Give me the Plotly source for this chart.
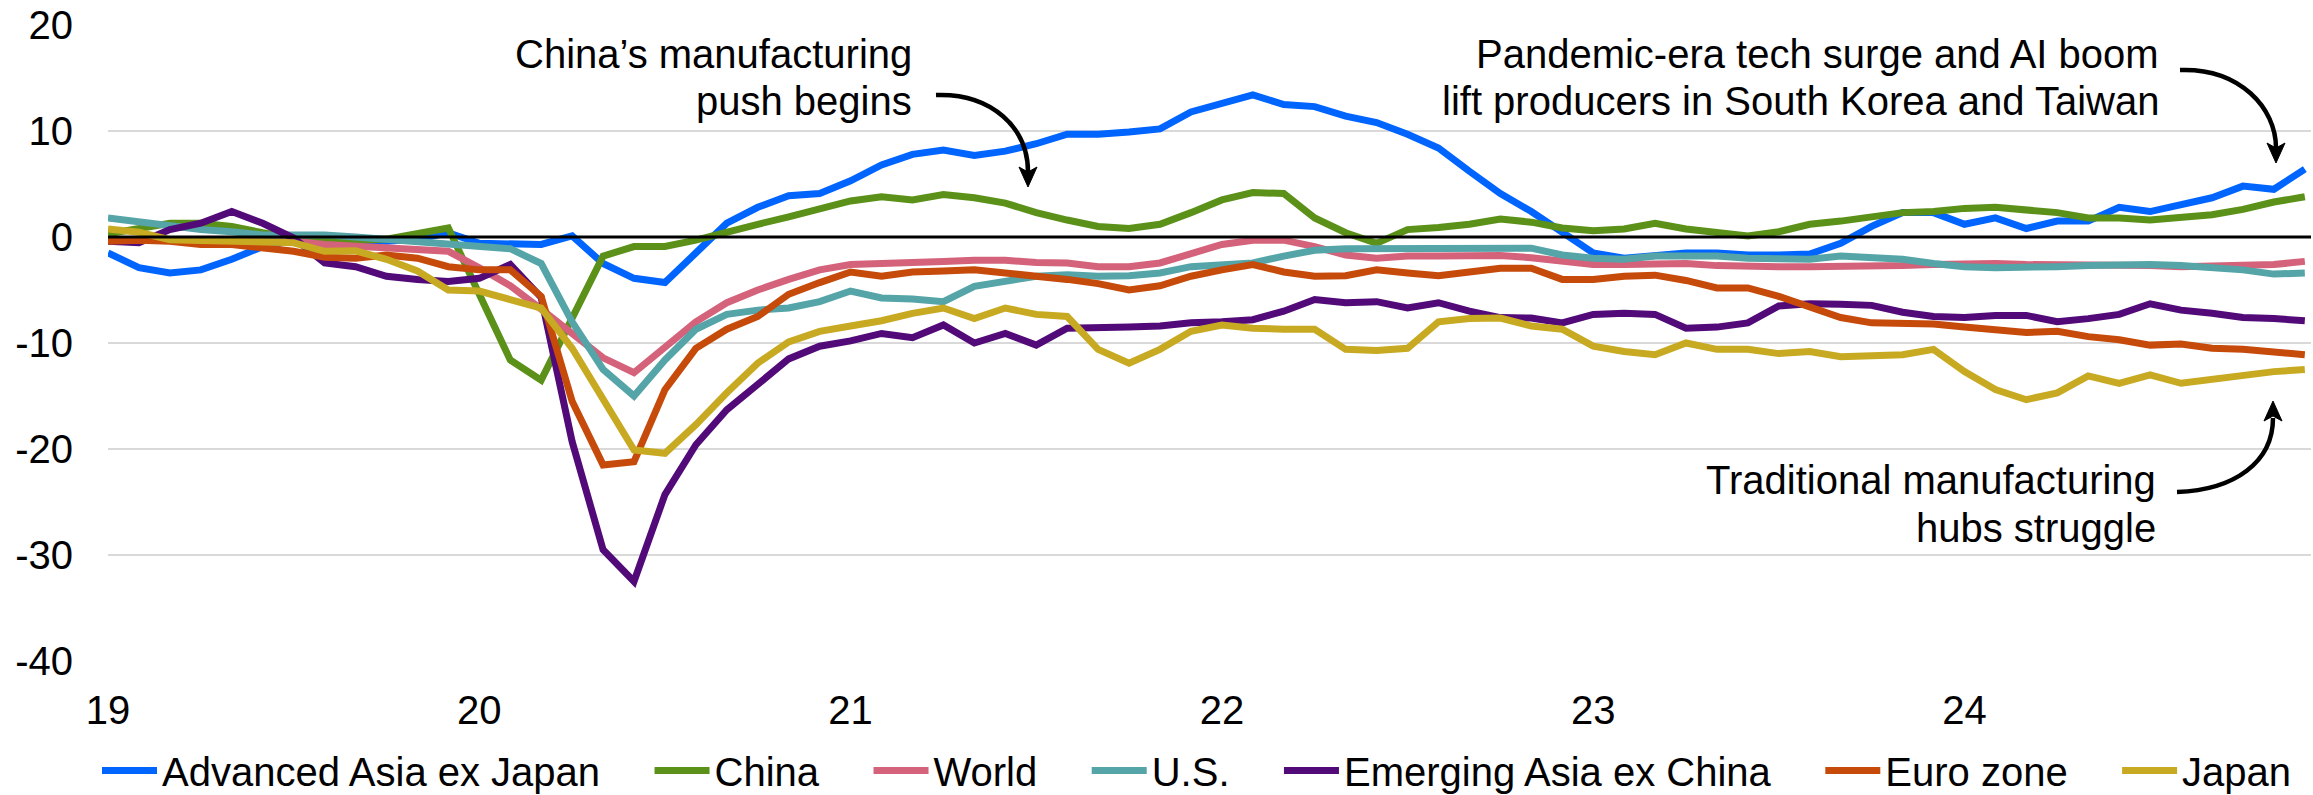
import plotly.graph_objects as go

# ---------------- data (monthly, Jan 2019 - Dec 2024) ----------------
year_ticks = [0, 12, 24, 36, 48, 60]
year_labels = ["19", "20", "21", "22", "23", "24"]
y_ticks = [-40, -30, -20, -10, 0, 10, 20]
y_labels = ["-40", "-30", "-20", "-10", "0", "10", "20"]

adv_asia = [-1.5, -2.9, -3.4, -3.1, -2.1, -0.9, -0.3, -0.2, -0.3, -0.4, -0.2, 0.4,
            -0.6, -0.7, -0.7, 0.1, -2.5, -3.9, -4.3, -1.5, 1.3, 2.8, 3.9, 4.1,
            5.3, 6.8, 7.8, 8.2, 7.7, 8.1, 8.8, 9.7, 9.7, 9.9, 10.2, 11.8,
            12.6, 13.4, 12.5, 12.3, 11.4, 10.8, 9.7, 8.4, 6.2, 4.1, 2.4, 0.4,
            -1.5, -2.0, -1.8, -1.5, -1.5, -1.7, -1.7, -1.6, -0.6, 1.0, 2.3, 2.3,
            1.2, 1.8, 0.8, 1.5, 1.5, 2.8, 2.4, 3.1, 3.7, 4.8, 4.5, 6.4]
china = [0.3, 0.8, 1.3, 1.3, 1.0, 0.4, -0.1, -0.2, -0.3, -0.2, 0.3, 0.85,
         -5.4, -11.6, -13.5, -7.5, -1.8, -0.9, -0.9, -0.3, 0.5, 1.2, 1.9, 2.6,
         3.4, 3.8, 3.5, 4.0, 3.7, 3.2, 2.3, 1.6, 1.0, 0.8, 1.2, 2.3,
         3.5, 4.2, 4.1, 1.8, 0.4, -0.6, 0.7, 0.9, 1.2, 1.7, 1.4, 0.85,
         0.6, 0.75, 1.3, 0.75, 0.4, 0.1, 0.5, 1.2, 1.5, 1.9, 2.3, 2.4,
         2.7, 2.8, 2.6, 2.3, 1.8, 1.8, 1.6, 1.8, 2.1, 2.6, 3.3, 3.8]
world = [-0.3, -0.3, -0.4, -0.4, -0.4, -0.3, -0.4, -0.7, -0.9, -1.0, -1.2, -1.35,
         -2.9, -4.6, -6.8, -9.2, -11.4, -12.8, -10.5, -8.0, -6.2, -5.0, -4.0, -3.1,
         -2.6, -2.55, -2.45, -2.3, -2.2, -2.2, -2.4, -2.45, -2.8, -2.8, -2.45, -1.5,
         -0.7, -0.3, -0.3, -0.9, -1.7, -2.0, -1.8, -1.8, -1.7, -1.75, -1.95, -2.3,
         -2.6, -2.6, -2.5, -2.5, -2.7, -2.8, -2.8, -2.8, -2.8, -2.7, -2.7, -2.6,
         -2.5, -2.5, -2.6, -2.6, -2.6, -2.6, -2.7, -2.8, -2.7, -2.7, -2.6, -2.3]
us = [1.8, 1.4, 1.0, 0.7, 0.5, 0.2, 0.2, 0.2, 0.0, -0.2, -0.4, -0.65,
      -0.9, -1.1, -2.5, -8.0, -12.5, -15.0, -11.6, -8.7, -7.3, -6.9, -6.7, -6.1,
      -5.1, -5.75, -5.85, -6.1, -4.65, -4.2, -3.7, -3.55, -3.7, -3.65, -3.4, -2.8,
      -2.6, -2.45, -1.8, -1.25, -1.1, -1.1, -1.1, -1.0, -0.95, -0.95, -1.05, -1.7,
      -2.0, -2.1, -1.8, -1.8, -1.8, -2.0, -2.0, -2.1, -1.8, -2.0, -2.1, -2.5,
      -2.8, -2.9, -2.9, -2.8, -2.7, -2.6, -2.6, -2.7, -2.9, -3.1, -3.5, -3.4]
em_asia = [-0.4, -0.55, 0.7, 1.3, 2.4, 1.3, -0.1, -2.45, -2.8, -3.7, -4.0, -4.2,
           -3.9, -2.6, -5.7, -19.3, -29.5, -32.5, -24.3, -19.6, -16.3, -13.8, -11.5, -10.3,
           -9.8, -9.1, -9.5, -8.3, -10.0, -9.1, -10.2, -8.6, -8.6, -8.5, -8.4, -8.1,
           -8.0, -7.8, -7.0, -5.9, -6.2, -6.1, -6.7, -6.2, -7.0, -7.6, -7.65, -8.1,
           -7.3, -7.2, -7.3, -8.6, -8.5, -8.1, -6.5, -6.3, -6.35, -6.45, -7.1, -7.5,
           -7.6, -7.4, -7.4, -8.0, -7.7, -7.3, -6.3, -6.9, -7.2, -7.6, -7.7, -7.9]
euro = [-0.4, -0.3, -0.4, -0.7, -0.7, -1.0, -1.35, -1.9, -2.0, -1.7, -2.0, -2.8,
        -3.1, -3.1, -5.6, -15.5, -21.5, -21.2, -14.4, -10.5, -8.7, -7.5, -5.4, -4.3,
        -3.3, -3.7, -3.3, -3.2, -3.1, -3.4, -3.65, -4.0, -4.4, -5.0, -4.6, -3.7,
        -3.1, -2.6, -3.3, -3.7, -3.65, -3.1, -3.4, -3.65, -3.3, -2.95, -2.95, -4.0,
        -4.0, -3.7, -3.6, -4.1, -4.8, -4.8, -5.6, -6.6, -7.6, -8.1, -8.1, -8.2,
        -8.5, -8.7, -9.0, -8.9, -9.4, -9.7, -10.2, -10.1, -10.5, -10.6, -10.8, -11.1]
japan = [0.75, 0.45, -0.25, -0.35, -0.35, -0.4, -0.55, -1.35, -1.3, -2.1, -3.2, -5.0,
         -5.1, -5.9, -6.7, -10.5, -15.3, -20.1, -20.4, -17.7, -14.7, -11.9, -9.9, -8.9,
         -8.4, -7.9, -7.2, -6.7, -7.7, -6.7, -7.3, -7.5, -10.6, -11.9, -10.6, -8.9,
         -8.3, -8.6, -8.7, -8.7, -10.6, -10.7, -10.5, -8.0, -7.7, -7.65, -8.4, -8.7,
         -10.3, -10.8, -11.1, -10.0, -10.6, -10.6, -11.0, -10.8, -11.3, -11.2, -11.1, -10.6,
         -12.7, -14.4, -15.35, -14.7, -13.1, -13.8, -13.0, -13.8, -13.4, -13.15, -12.7, -12.5]

series_names = ["Advanced Asia ex Japan", "China", "World", "U.S.",
                "Emerging Asia ex China", "Euro zone", "Japan"]
series_values = [adv_asia, china, world, us, em_asia, euro, japan]
series_colors = ["#0064FF", "#5B9119", "#D4627A", "#54A4A8",
                 "#520A78", "#C64A0A", "#C8AA22"]

months = list(range(len(adv_asia)))

# ---------------- geometry helpers (pixel -> paper) ----------------
W, H = 2313, 795
L, R, T, B = 108, 2311, 25, 661
def px(x):
    return (x - L) / (R - L)
def py(y):
    return (B - y) / (B - T)

FONT = "Liberation Sans, Arial, sans-serif"
PAD = "\u00a0" * 4  # spacing between legend entries

fig = go.Figure()
for i, (name, vals, col) in enumerate(zip(series_names, series_values, series_colors)):
    label = name + (PAD if i < len(series_names) - 1 else "")
    fig.add_trace(go.Scatter(x=months, y=vals, name=label, mode="lines",
                             line=dict(color=col, width=7)))

fig.update_layout(
    width=W, height=H,
    margin=dict(l=L, r=W - R, t=T, b=H - B, autoexpand=False),
    paper_bgcolor="white", plot_bgcolor="white",
    font=dict(family=FONT, size=40, color="black"),
    showlegend=True,
    legend=dict(orientation="h", x=px(97), xanchor="left", y=py(803),
                yanchor="bottom", font=dict(size=40), itemwidth=55,
                bgcolor="rgba(0,0,0,0)", traceorder="normal"),
    xaxis=dict(range=[0, 71.2], tickvals=year_ticks, ticktext=year_labels,
               showgrid=False, zeroline=False, showline=False, ticks="",
               ticklabelstandoff=22, tickfont=dict(size=40)),
    yaxis=dict(range=[-40, 20], tickvals=y_ticks, ticktext=y_labels,
               showgrid=True, gridcolor="#D9D9D9", gridwidth=1.5,
               zeroline=False, showline=False, ticks="",
               ticklabelstandoff=34, tickfont=dict(size=40)),
)

# zero line on top of the series
fig.add_shape(type="line", xref="paper", yref="y", x0=0, x1=1, y0=0, y1=0,
              line=dict(color="black", width=2.8), layer="above")

# annotation texts (one annotation per line)
texts = [
    ("China\u2019s manufacturing", 914, 54),
    ("push begins", 914, 101),
    ("Pandemic-era tech surge and AI boom", 2161, 54),
    ("lift producers in South Korea and Taiwan", 2161, 101),
    ("Traditional manufacturing", 2158, 480),
    ("hubs struggle", 2158, 528),
]
for t, x, y in texts:
    fig.add_annotation(text=t, xref="paper", yref="paper", x=px(x), y=py(y),
                       xanchor="right", yanchor="middle", showarrow=False,
                       font=dict(size=40, color="black", family=FONT))

# curved arrows
def cubic(p0, p1, p2, p3):
    return ("M {},{} C {},{} {},{} {},{}".format(
        px(p0[0]), py(p0[1]), px(p1[0]), py(p1[1]),
        px(p2[0]), py(p2[1]), px(p3[0]), py(p3[1])))

def head(tip, direction):
    tx, ty = tip
    s = 1 if direction == "down" else -1
    pts = [(tx, ty), (tx - 9, ty - s * 20), (tx, ty - s * 15), (tx + 9, ty - s * 20)]
    return "M " + " L ".join("{},{}".format(px(a), py(b)) for a, b in pts) + " Z"

arrows = [
    (((936, 95), (992, 93), (1028, 128), (1028, 172)), (1028, 187), "down"),
    (((2180, 70), (2240, 68), (2276, 108), (2276, 148)), (2276, 163), "down"),
    (((2177, 492), (2235, 490), (2273, 462), (2273, 418)), (2273, 401), "up"),
]
for curve, tip, d in arrows:
    fig.add_shape(type="path", xref="paper", yref="paper", path=cubic(*curve),
                  line=dict(color="black", width=4.5), layer="above")
    fig.add_shape(type="path", xref="paper", yref="paper", path=head(tip, d),
                  line=dict(color="black", width=1), fillcolor="black", layer="above")

fig.write_html("out.html")
